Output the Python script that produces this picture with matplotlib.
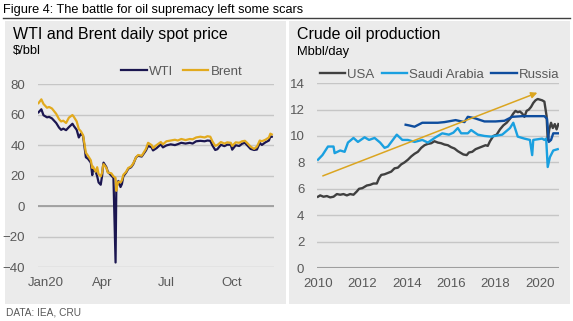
import numpy as np
import matplotlib.pyplot as plt
from matplotlib.patches import Rectangle
from matplotlib.transforms import ScaledTranslation

plt.rcParams['font.family'] = ['Liberation Sans', 'DejaVu Sans']

# WTI / Brent daily spot, 2020 ($/bbl)
price_dates = ['2020-01-02', '2020-01-06', '2020-01-09', '2020-01-14', '2020-01-17', '2020-01-21',
               '2020-01-27', '2020-01-31', '2020-02-03', '2020-02-06', '2020-02-10', '2020-02-14',
               '2020-02-19', '2020-02-21', '2020-02-25', '2020-02-28', '2020-03-02', '2020-03-05',
               '2020-03-09', '2020-03-12', '2020-03-16', '2020-03-18', '2020-03-19', '2020-03-23',
               '2020-03-25', '2020-03-27', '2020-03-30', '2020-04-01', '2020-04-02', '2020-04-03',
               '2020-04-07', '2020-04-09', '2020-04-14', '2020-04-17', '2020-04-20', '2020-04-21',
               '2020-04-22', '2020-04-24', '2020-04-27', '2020-04-29', '2020-05-01', '2020-05-05',
               '2020-05-08', '2020-05-12', '2020-05-15', '2020-05-19', '2020-05-22', '2020-05-27',
               '2020-06-02', '2020-06-05', '2020-06-10', '2020-06-12', '2020-06-17', '2020-06-23',
               '2020-06-26', '2020-07-01', '2020-07-07', '2020-07-13', '2020-07-17', '2020-07-22',
               '2020-07-28', '2020-08-03', '2020-08-07', '2020-08-12', '2020-08-18', '2020-08-24',
               '2020-08-28', '2020-09-01', '2020-09-04', '2020-09-08', '2020-09-11', '2020-09-16',
               '2020-09-21', '2020-09-25', '2020-09-30', '2020-10-02', '2020-10-07', '2020-10-12',
               '2020-10-16', '2020-10-20', '2020-10-23', '2020-10-28', '2020-11-02', '2020-11-06',
               '2020-11-10', '2020-11-13', '2020-11-18', '2020-11-23', '2020-11-25', '2020-11-27']
wti = [61.5, 63.5, 59.6, 58.2, 58.5, 57.5, 54.5, 51.5, 50.0, 50.8, 49.8, 51.8,
       54.0, 52.5, 50.0, 45.0, 47.5, 46.0, 32.0, 31.0, 28.5, 20.3, 24.0, 22.5,
       19.5, 15.5, 14.0, 20.0, 25.5, 28.5, 25.5, 22.5, 20.0, 18.5, -37.0, 10.0,
       13.5, 16.5, 12.5, 14.5, 19.5, 22.0, 24.5, 25.5, 27.5, 32.0, 33.0, 32.5,
       36.5, 39.5, 38.5, 36.5, 38.0, 40.5, 38.5, 39.8, 40.5, 40.0, 40.6, 41.5,
       41.0, 41.5, 41.0, 42.5, 42.8, 42.5, 43.0, 42.8, 39.8, 36.8, 37.3, 40.2,
       39.3, 40.3, 40.2, 37.0, 39.9, 39.4, 40.9, 41.5, 40.0, 37.5, 36.8, 37.1,
       41.4, 40.1, 41.8, 43.0, 45.7, 45.5]
brent = [67.5, 70.0, 67.0, 64.5, 65.0, 64.0, 60.5, 57.0, 55.5, 56.0, 54.5, 58.0,
         59.7, 58.5, 55.5, 50.5, 49.0, 46.5, 35.0, 33.0, 30.0, 25.0, 26.0, 22.5,
         25.5, 21.0, 19.5, 22.0, 25.5, 27.5, 25.0, 22.0, 21.5, 19.5, 18.5, 10.0,
         13.0, 16.0, 15.5, 17.0, 20.5, 22.5, 25.0, 26.0, 28.0, 32.0, 33.5, 33.0,
         37.5, 41.5, 40.0, 38.0, 40.0, 42.0, 40.5, 42.5, 43.0, 43.5, 43.0, 44.0,
         43.3, 44.0, 43.8, 45.0, 45.5, 45.0, 45.8, 45.5, 42.5, 39.5, 40.0, 42.0,
         41.0, 41.8, 41.5, 39.5, 41.8, 41.5, 42.5, 42.8, 41.5, 39.0, 37.5, 39.0,
         43.0, 42.5, 43.5, 45.0, 47.5, 47.0]

# crude oil production (Mbbl/day)
usa_t = [2010.0, 2010.1, 2010.25, 2010.4, 2010.55, 2010.7, 2010.85, 2011.0, 2011.15, 2011.3,
         2011.45, 2011.6, 2011.75, 2011.85, 2012.0, 2012.2, 2012.35, 2012.5, 2012.65, 2012.75,
         2012.85, 2013.0, 2013.15, 2013.3, 2013.45, 2013.6, 2013.75, 2013.9, 2014.05, 2014.2,
         2014.35, 2014.5, 2014.65, 2014.8, 2014.95, 2015.1, 2015.25, 2015.4, 2015.55, 2015.7,
         2015.85, 2016.0, 2016.15, 2016.3, 2016.45, 2016.55, 2016.7, 2016.8, 2016.95, 2017.1,
         2017.25, 2017.4, 2017.55, 2017.65, 2017.75, 2017.9, 2018.05, 2018.2, 2018.35, 2018.5,
         2018.65, 2018.8, 2018.9, 2019.0, 2019.1, 2019.2, 2019.3, 2019.4, 2019.5, 2019.6,
         2019.7, 2019.8, 2019.9, 2020.0, 2020.1, 2020.2, 2020.3, 2020.35, 2020.42, 2020.5,
         2020.58, 2020.67, 2020.75, 2020.83]
usa = [5.4, 5.5, 5.4, 5.45, 5.35, 5.4, 5.6, 5.55, 5.6, 5.5,
       5.6, 5.55, 5.8, 6.0, 6.05, 6.25, 6.3, 6.4, 6.4, 6.8,
       7.05, 7.1, 7.2, 7.3, 7.55, 7.6, 7.85, 8.0, 8.2, 8.45,
       8.65, 8.8, 9.1, 9.3, 9.4, 9.45, 9.6, 9.5, 9.45, 9.35,
       9.3, 9.15, 9.05, 8.85, 8.7, 8.6, 8.55, 8.75, 8.8, 9.0,
       9.1, 9.2, 9.3, 9.25, 9.6, 10.0, 10.1, 10.5, 10.8, 11.0,
       11.3, 11.7, 11.9, 11.8, 11.85, 11.7, 11.45, 11.9, 12.0, 12.2,
       12.5, 12.7, 12.8, 12.75, 12.7, 12.6, 11.5, 9.7, 10.5, 11.0,
       10.6, 10.9, 10.5, 10.9]

saudi_t = [2010.0, 2010.2, 2010.45, 2010.7, 2010.75, 2011.0, 2011.2, 2011.35, 2011.6, 2011.8,
           2012.1, 2012.3, 2012.55, 2012.8, 2013.0, 2013.15, 2013.55, 2013.8, 2014.05, 2014.35,
           2014.7, 2014.95, 2015.3, 2015.6, 2015.9, 2016.1, 2016.3, 2016.45, 2016.75, 2016.9,
           2017.2, 2017.5, 2017.8, 2018.3, 2018.65, 2018.8, 2019.0, 2019.3, 2019.55, 2019.65,
           2019.7, 2020.1, 2020.2, 2020.28, 2020.35, 2020.45, 2020.6, 2020.8]
saudi = [8.2, 8.55, 9.2, 9.2, 8.7, 8.9, 8.8, 9.5, 9.85, 9.55,
         9.9, 9.7, 9.85, 9.5, 9.1, 9.2, 10.1, 9.7, 9.7, 9.55,
         9.7, 9.5, 9.9, 10.2, 10.1, 10.25, 10.6, 10.2, 10.2, 10.45,
         10.1, 10.0, 9.95, 10.1, 10.6, 11.0, 9.95, 9.8, 9.7, 8.55,
         9.7, 9.8, 9.7, 9.8, 7.65, 8.4, 8.9, 9.0]

russia_t = [2013.95, 2014.1, 2014.35, 2014.7, 2015.15, 2015.4, 2015.7, 2016.2, 2016.6, 2016.75,
            2017.05, 2017.5, 2018.0, 2018.4, 2018.75, 2019.2, 2019.8, 2020.2, 2020.32, 2020.4,
            2020.5, 2020.6, 2020.85]
russia = [10.85, 10.8, 10.7, 11.0, 11.0, 11.0, 11.05, 11.2, 11.05, 11.45,
          11.35, 11.1, 11.1, 11.15, 11.45, 11.5, 11.5, 11.5, 11.3, 9.55,
          9.7, 10.2, 10.2]

fig = plt.figure(figsize=(5.73, 3.21), dpi=100)

# grey panels and header rule
fig.patches.append(Rectangle((0.009, 0.053), 0.490, 0.882, transform=fig.transFigure,
                             facecolor='#ebebeb', edgecolor='none', zorder=-10))
fig.patches.append(Rectangle((0.505, 0.053), 0.490, 0.882, transform=fig.transFigure,
                             facecolor='#ebebeb', edgecolor='none', zorder=-10))
fig.lines.append(plt.Line2D([0.005, 0.995], [0.943, 0.943], transform=fig.transFigure,
                            color='#404040', lw=1.0))

fig.text(0.005, 0.968, 'Figure 4: The battle for oil supremacy left some scars',
         fontsize=9.2, va='center', ha='left')
fig.text(0.01, 0.025, 'DATA: IEA, CRU', fontsize=7.3, color='#595959', va='center', ha='left')

grid_c = '#c6c6c6'
tick_c = '#595959'

# left: spot prices
ax1 = fig.add_axes([0.066, 0.168, 0.412, 0.570])
ax1.set_facecolor('none')
d = np.array(price_dates, dtype='datetime64[D]')
ax1.plot(d, wti, color='#1b1650', lw=1.6, label='WTI', zorder=3)
ax1.plot(d, brent, color='#e2aa1e', lw=1.6, label='Brent', zorder=4)
ax1.set_ylim(-40, 80)
ax1.set_yticks(range(-40, 81, 20))
ax1.set_xlim(np.datetime64('2020-01-01'), np.datetime64('2020-11-30'))
ax1.set_xticks(np.array(['2020-01-01', '2020-04-01', '2020-07-01', '2020-10-01'], dtype='datetime64[D]'))
ax1.set_xticklabels(['Jan20', 'Apr', 'Jul', 'Oct'])
ax1.axhline(0, color='#9e9e9e', lw=1.3, zorder=2)
ax1.legend(loc='center', bbox_to_anchor=(0.61, 1.068), ncol=2, frameon=False, fontsize=9.5,
           handlelength=1.9, handletextpad=0.15, columnspacing=0.8, labelcolor=tick_c)
fig.text(0.022, 0.891, 'WTI and Brent daily spot price', fontsize=11.5, va='center', ha='left')
fig.text(0.022, 0.840, '$/bbl', fontsize=9.3, va='center', ha='left')

# right: production
ax2 = fig.add_axes([0.553, 0.165, 0.423, 0.576])
ax2.set_facecolor('none')
ax2.plot(usa_t, usa, color='#404040', lw=1.7, label='USA', zorder=3)
ax2.plot(saudi_t, saudi, color='#1aa0e0', lw=1.7, label='Saudi Arabia', zorder=3)
ax2.plot(russia_t, russia, color='#0e4d9e', lw=1.7, label='Russia', zorder=3)
ax2.annotate('', xy=(2020.0, 13.35), xytext=(2010.1, 6.9),
             arrowprops=dict(arrowstyle='-|>', color='#dba520', lw=1.1, mutation_scale=9))
ax2.set_ylim(0, 14)
ax2.set_yticks(range(0, 15, 2))
ax2.set_xlim(2009.95, 2020.87)
ax2.set_xticks(range(2010, 2021, 2))
ax2.axhline(0, color='#9e9e9e', lw=1.5, zorder=2)
ax2.legend(loc='center', bbox_to_anchor=(0.505, 1.045), ncol=3, frameon=False, fontsize=9.5,
           handlelength=1.9, handletextpad=0.15, columnspacing=0.6, labelcolor=tick_c)
fig.text(0.518, 0.891, 'Crude oil production', fontsize=11.5, va='center', ha='left')
fig.text(0.518, 0.838, 'Mbbl/day', fontsize=9.3, va='center', ha='left')

for ax in (ax1, ax2):
    ax.grid(axis='y', color=grid_c, lw=1.0, zorder=1)
    ax.set_axisbelow(True)
    for s in ax.spines.values():
        s.set_visible(False)
    ax.tick_params(length=0, labelsize=9.5, labelcolor=tick_c)
    ax.tick_params(axis='y', pad=9)
    ax.tick_params(axis='x', pad=7)

# nudge the first date label right, as in the original
lbl = ax1.xaxis.get_majorticklabels()[0]
lbl.set_transform(lbl.get_transform() + ScaledTranslation(6 / 72, 0, fig.dpi_scale_trans))

fig.savefig('out.png', dpi=100)
